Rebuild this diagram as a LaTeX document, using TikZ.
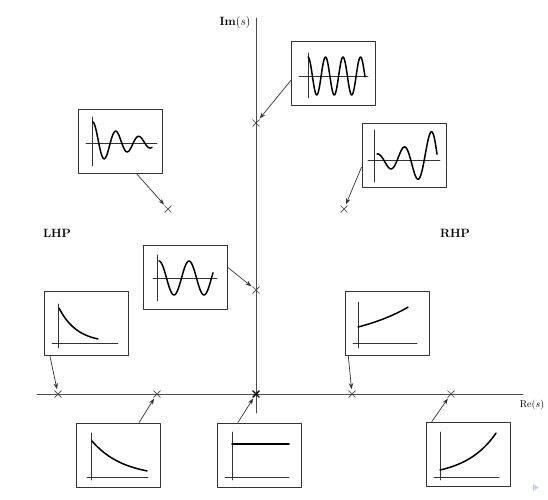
\documentclass[tikz,border=0pt]{standalone}
\usetikzlibrary{arrows.meta,shapes.misc}

\begin{document}
\begin{tikzpicture}[x=1pt,y=-1pt,line cap=round,line join=round,
  axis/.style={black!70,line width=0.8pt},
  pole/.style={cross out,draw=black!75,line width=0.7pt,minimum size=6pt,inner sep=0pt},
  panel/.style={draw=black!80,line width=1pt,minimum width=84pt,minimum height=64pt,inner sep=0pt},
  tick/.style={black!80,line width=0.8pt},
  resp/.style={black,line width=1.5pt,smooth},
  lead/.style={-{Stealth[length=6pt,width=4.4pt]},black!80,line width=0.7pt,shorten >=1.5pt}]
\useasboundingbox (0,0) rectangle (548,499);
% s-plane axes
\draw[axis] (256,18) -- (256,413);
\draw[axis] (37,394) -- (523,394);
\node[font=\large,anchor=east] (imlabel) at (254,22) {\textbf{Im}$(s)$};
\node (relabel) at (532,405) {Re$(s)$};
\node[font=\large\bfseries] (lhp) at (57,233) {LHP};
\node[font=\large\bfseries] (rhp) at (455,233) {RHP};
% poles
\node[pole] (p1) at (256,123) {};
\node[pole] (p2) at (168,209) {};
\node[pole] (p3) at (344,209) {};
\node[pole] (p4) at (256,290) {};
\node[pole] (p5) at (58,394) {};
\node[pole] (p7) at (157,394) {};
\node[pole,line width=1.4pt,minimum size=5pt,draw=black] (p0) at (256,394) {};
\node[pole] (p6) at (352,394) {};
\node[pole] (p9) at (451,394) {};
% response panels
\node[panel] (b1) at (333.5,73.5) {};
\node[panel] (b2) at (120.5,141) {};
\node[panel] (b3) at (404,155) {};
\node[panel] (b4) at (185,277) {};
\node[panel] (b5) at (86,323.5) {};
\node[panel] (b6) at (387,323) {};
\node[panel] (b7) at (118,455) {};
\node[panel] (b8) at (259,455) {};
\node[panel] (b9) at (468,454) {};
% panel contents
\draw[tick] (308,53) -- (308,98);
\draw[tick] (299,76) -- (368,76);
\draw[resp] plot[domain=0:57,samples=140] ({308+\x},{76-19*cos(20.5714*\x)});
\draw[tick] (92,117) -- (92,166);
\draw[tick] (86,143) -- (157,143);
\draw[resp] plot[domain=0:59,samples=120] ({93+\x},{143-21*exp(-\x/40)*cos(15.652*\x)});
\draw[tick] (374,130) -- (374,182);
\draw[tick] (368,160) -- (440,160);
\draw[resp] plot[domain=0:60,samples=120] ({377+\x},{160-6*exp(\x/35)*cos(13.333*\x)});
\draw[tick] (157,255) -- (157,301);
\draw[tick] (153,278) -- (217,278);
\draw[resp] plot[domain=0:54,samples=100] ({159+\x},{278-17*cos(12*\x)});
\draw[tick] (58,304) -- (58,348);
\draw[tick] (52,343) -- (118,343);
\draw[resp] plot[domain=0:39,samples=40] ({59+\x},{343-35*exp(-\x/18)});
\draw[tick] (358,302) -- (358,348);
\draw[tick] (353,343) -- (417,343);
\draw[resp] plot[domain=0:50,samples=40] ({358+\x},{343-16*exp(\x/62)});
\draw[tick] (91,433) -- (91,480);
\draw[tick] (87,477) -- (148,477);
\draw[resp] plot[domain=0:55,samples=40] ({92+\x},{477-36*exp(-\x/31)});
\draw[tick] (232,432) -- (232,480);
\draw[tick] (225,477) -- (289,477);
\draw[black,line width=1.5pt] (232,444) -- (289,444);
\draw[tick] (440,432) -- (440,480);
\draw[tick] (434,477) -- (499,477);
\draw[resp] plot[domain=0:56,samples=40] ({440+\x},{477-7*exp(\x/30.5)});
% leaders
\draw[lead] (b1.189) -- (p1);
\draw[lead] (b2.296) -- (p2);
\draw[lead] (b3.196) -- (p3);
\draw[lead] (b4.13) -- (p4);
\draw[lead] (b5.222) -- (p5);
\draw[lead] (b6.220) -- (p6);
\draw[lead] (b7.57) -- (p7);
\draw[lead] (b8.123) -- (p0);
\draw[lead] (b9.138) -- (p9);
\fill[blue!20] (533,484) -- (539,487.5) -- (533,491) -- cycle;
\end{tikzpicture}
\end{document}
